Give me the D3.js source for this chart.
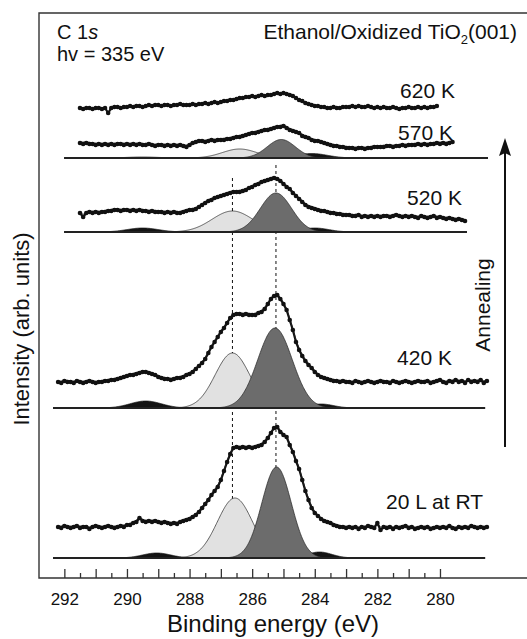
<!DOCTYPE html>
<meta charset="utf-8">
<script src="https://d3js.org/d3.v7.min.js"></script>
<style>
  body { margin: 0; background: #fff; }
  text { font-family: Arial, "Liberation Sans", Helvetica, sans-serif; fill: #111; }
</style>
<div id="my_dataviz"></div>

<script>
    // spectra, bottom to top
    const labels = ["20 L at RT", "420 K", "520 K", "570 K", "620 K"];
    // vertical offset of each spectrum (arb. units)
    const offsets = [20, 170, 346, 420, 468];
    // first binding energy of each scan (eV), points every 0.1 eV towards lower BE
    const startEnergy = [292.2, 292.2, 291.5, 291.5, 291.5];
    const stepEnergy = 0.1;

    // measured intensities above the fit baseline (arb. units)
    const scanRT = [31,30,32,31,30,31,32,30,31,31,29,31,32,31,30,31,32,31,30,31,32,31,33,
        33,35,36,40,37,36,37,36,37,36,
        35,36,35,34,35,34,36,37,38,39,
        41,43,46,50,54,58,63,67,71,78,
        87,96,104,110,111,110,111,110,111,110,
        111,112,113,116,120,125,130,131,126,123,
        121,113,106,97,89,78,67,58,50,45,
        42,39,37,36,35,33,32,31,31,30,
        31,30,31,29,31,30,32,31,30,35,
        28,31,30,31,29,31,30,31,32,30,
        31,29,30,31,30,31,29,30,31,30,
        31,30,32,30,29,31,30,31,30,32,
        31,30,31,30,31];
    const scan420 = [26,25,27,26,26,25,27,26,25,26,27,26,25,26,26,27,27,28,28,29,30,31,32,
        33,33,34,35,36,36,35,34,33,31,
        30,29,29,28,29,30,30,31,33,34,
        36,39,42,45,49,55,61,66,71,76,
        80,85,90,93,94,94,93,94,93,93,
        93,95,96,99,104,109,112,113,109,104,
        98,88,78,66,58,52,47,43,40,36,
        33,31,30,29,28,27,27,26,27,26,
        26,25,27,26,25,26,27,26,25,26,
        27,26,26,25,27,26,25,26,27,26,
        25,26,27,26,26,27,25,26,27,28,
        26,25,27,26,28,26,27,25,28,26,
        27,26,28,25,27];
    const scan520 = [19,15,19,20,19,20,
        19,20,20,21,21,22,22,21,22,22,
        21,22,21,22,21,21,20,21,20,20,
        20,19,20,19,20,19,19,20,21,22,
        22,23,25,27,29,31,32,34,35,36,
        37,38,39,40,40,40,41,42,44,45,
        47,48,50,51,52,53,54,53,51,48,
        45,43,39,36,33,30,27,25,24,23,
        22,21,21,20,19,19,18,18,17,17,
        17,16,16,17,15,16,15,16,15,16,
        15,16,16,15,16,17,16,15,16,15,
        16,15,14,16,15,14,15,16,14,15,
        14,13,14,13,12,13,12,11];
    const scan570 = [15,14,15,14,14,13,
        14,13,14,13,14,13,14,14,13,14,
        13,14,13,14,13,13,14,13,12,13,
        13,12,13,12,13,12,13,12,11,13,
        15,16,17,17,16,17,18,17,18,18,
        18,19,19,20,21,21,22,23,24,25,
        25,26,27,28,28,29,30,31,31,32,
        30,28,27,26,25,22,21,20,18,17,
        17,16,15,14,13,12,12,11,11,10,
        10,10,9,10,10,9,10,10,11,11,
        11,11,12,12,11,12,12,13,12,13,
        13,13,14,13,14,13,14,14,15,14,
        15,14,15,16];
    const scan620 = [2,1,2,2,1,2,
        2,1,2,-3,2,3,3,2,3,3,
        4,3,4,4,3,4,5,4,5,5,
        4,5,5,4,5,5,6,5,5,5,
        6,5,6,6,7,6,7,8,7,8,
        9,9,10,10,11,12,12,13,13,14,
        13,14,15,14,15,15,16,17,16,17,
        16,15,14,12,10,9,7,6,5,4,
        4,3,3,2,2,3,2,2,3,3,
        3,4,3,4,3,3,4,3,2,3,
        2,3,2,2,3,2,1,2,2,3,
        2,2,3,2,3,2,3,3,4];
    const scans = [scanRT, scan420, scan520, scan570, scan620];

    // fitted components (RT, 420, 520, 570 K): center eV, height, gaussian sigma eV
    const lightCenter = [286.55, 286.63, 286.63, 286.40];
    const lightHeight = [60, 55, 21, 9];
    const lightSigma = [0.56, 0.55, 0.65, 0.55];
    const darkCenter = [285.22, 285.27, 285.24, 285.07];
    const darkHeight = [91, 80, 39, 18.5];
    const darkSigma = [0.47, 0.55, 0.50, 0.45];
    const minorHighCenter = [289.05, 289.40, 289.50, 289.50];
    const minorHighHeight = [5, 7, 4, 1];
    const minorHighSigma = [0.45, 0.50, 0.50, 0.50];
    const minorLowCenter = [283.85, 283.80, 284.00, 284.10];
    const minorLowHeight = [6, 4, 4, 4.5];
    const minorLowSigma = [0.40, 0.40, 0.45, 0.50];
    // energy span of each fit baseline
    const baseFrom = [292.36, 292.36, 292.00, 292.00];
    const baseTo = [278.56, 278.56, 279.14, 278.47];

    // reference peak positions (dashed lines)
    const refEnergy = [286.63, 285.24];

    // axis ticks
    const majorTicks = d3.range(280, 292.01, 1);
    const minorTicks = d3.range(280.5, 292, 1);

    const width = 527, height = 639;

    const svg = d3.select("#my_dataviz")
        .append("svg")
        .attr("width", width)
        .attr("height", height);

    const x = d3.scaleLinear().domain([292.81, 277.22]).range([39, 527]);
    const y = d3.scaleLinear().domain([0, 565]).range([578, 13]);

    function gauss(e, c, h, s) {
        return h * Math.exp(-((e - c) * (e - c)) / (2 * s * s));
    }

    // dashed reference lines (behind everything)
    svg.append("g")
        .selectAll("line")
        .data(refEnergy)
        .join("line")
        .attr("x1", d => x(d))
        .attr("x2", d => x(d))
        .attr("y1", (d, i) => i == 0 ? y(400) : y(413))
        .attr("y2", y(offsets[0]))
        .attr("stroke", "#111")
        .attr("stroke-width", 1)
        .attr("stroke-dasharray", "3,3");

    // fitted components
    for (let i = 0; i < 4; i++) {
        const off = offsets[i];
        const grid = d3.range(baseFrom[i], baseTo[i] - 0.001, -0.02);
        grid.push(baseTo[i]);
        const comps = [
            {c: minorHighCenter[i], h: minorHighHeight[i], s: minorHighSigma[i], fill: "#141414", stroke: "#141414"},
            {c: minorLowCenter[i], h: minorLowHeight[i], s: minorLowSigma[i], fill: "#141414", stroke: "#141414"},
            {c: lightCenter[i], h: lightHeight[i], s: lightSigma[i], fill: "#e1e1e1", stroke: "#222"},
            {c: darkCenter[i], h: darkHeight[i], s: darkSigma[i], fill: "#6c6c6c", stroke: "#222"}
        ];
        const area = d3.area()
            .x(d => x(d))
            .y0(y(off));
        comps.forEach(p => {
            svg.append("path")
                .datum(grid)
                .attr("d", area.y1(d => y(off + gauss(d, p.c, p.h, p.s))))
                .attr("fill", p.fill)
                .attr("stroke", p.stroke)
                .attr("stroke-width", 0.7);
        });
        svg.append("line")
            .attr("x1", x(baseFrom[i]))
            .attr("x2", x(baseTo[i]))
            .attr("y1", y(off))
            .attr("y2", y(off))
            .attr("stroke", "#222")
            .attr("stroke-width", 2);
    }

    // measured points
    scans.forEach((scan, i) => {
        const pts = scan.map((v, k) => ({e: startEnergy[i] - k * stepEnergy, v: v + offsets[i]}));
        svg.append("path")
            .datum(pts)
            .attr("d", d3.line().x(d => x(d.e)).y(d => y(d.v)))
            .attr("fill", "none")
            .attr("stroke", "#111")
            .attr("stroke-width", 2.2);
        if (i < 4) {
            svg.append("path")
                .datum(pts)
                .attr("d", d3.line().x(d => x(d.e)).y(d => y(d.v + 1.5)).curve(d3.curveBasis))
                .attr("fill", "none")
                .attr("stroke", "#222")
                .attr("stroke-width", 0.8);
        }
        svg.append("g")
            .selectAll("circle")
            .data(pts)
            .join("circle")
            .attr("cx", d => x(d.e))
            .attr("cy", d => y(d.v))
            .attr("r", 2.3)
            .attr("fill", "#111");
    });

    // frame
    svg.append("path")
        .attr("d", `M527,${y(565)}H39V${y(0)}H527`)
        .attr("fill", "none")
        .attr("stroke", "#333")
        .attr("stroke-width", 1.4);

    // axis ticks pointing inwards
    const axisMajor = svg.append("g")
        .attr("transform", `translate(0, ${y(0)})`)
        .call(d3.axisBottom(x).tickValues(majorTicks).tickSizeInner(-9).tickSizeOuter(0)
            .tickPadding(15).tickFormat(d => d % 2 == 0 ? d : ""));
    axisMajor.select(".domain").remove();
    axisMajor.selectAll("line").attr("stroke", "#333").attr("stroke-width", 1.3);
    axisMajor.selectAll("text").style("font-size", "17px").attr("fill", "#111");

    const axisMinor = svg.append("g")
        .attr("transform", `translate(0, ${y(0)})`)
        .call(d3.axisBottom(x).tickValues(minorTicks).tickSizeInner(-5).tickSizeOuter(0).tickFormat(""));
    axisMinor.select(".domain").remove();
    axisMinor.selectAll("line").attr("stroke", "#333").attr("stroke-width", 1.3);

    // axis titles
    svg.append("text")
        .attr("x", 273)
        .attr("y", 632)
        .attr("text-anchor", "middle")
        .style("font-size", "24px")
        .text("Binding energy (eV)");

    svg.append("text")
        .attr("transform", "translate(29, 329) rotate(-90)")
        .attr("text-anchor", "middle")
        .style("font-size", "22px")
        .text("Intensity (arb. units)");

    // corner notes
    const c1s = svg.append("text")
        .attr("x", 57)
        .attr("y", 39)
        .style("font-size", "20px");
    c1s.append("tspan").text("C 1");
    c1s.append("tspan").style("font-style", "italic").text("s");

    svg.append("text")
        .attr("x", 57)
        .attr("y", 61)
        .style("font-size", "20px")
        .text("hv = 335 eV");

    const title = svg.append("text")
        .attr("x", 517)
        .attr("y", 39)
        .attr("text-anchor", "end")
        .style("font-size", "21px");
    title.append("tspan").text("Ethanol/Oxidized TiO");
    title.append("tspan").attr("dy", 5).style("font-size", "13px").text("2");
    title.append("tspan").attr("dy", -5).text("(001)");

    // spectrum labels
    const labelX = [483, 452, 462, 453, 455];
    const labelY = [509, 365, 205, 140, 98];
    svg.append("g")
        .selectAll("text")
        .data(labels)
        .join("text")
        .attr("x", (d, i) => labelX[i])
        .attr("y", (d, i) => labelY[i])
        .attr("text-anchor", "end")
        .style("font-size", "21px")
        .text(d => d);

    // annealing arrow
    svg.append("line")
        .attr("x1", 505).attr("x2", 505)
        .attr("y1", 447).attr("y2", 150)
        .attr("stroke", "#111")
        .attr("stroke-width", 2);
    svg.append("path")
        .attr("d", "M505,138L511,156L505,153L499,156Z")
        .attr("fill", "#111");

    svg.append("text")
        .attr("transform", "translate(490, 305) rotate(-90)")
        .attr("text-anchor", "middle")
        .style("font-size", "21px")
        .text("Annealing");
</script>
